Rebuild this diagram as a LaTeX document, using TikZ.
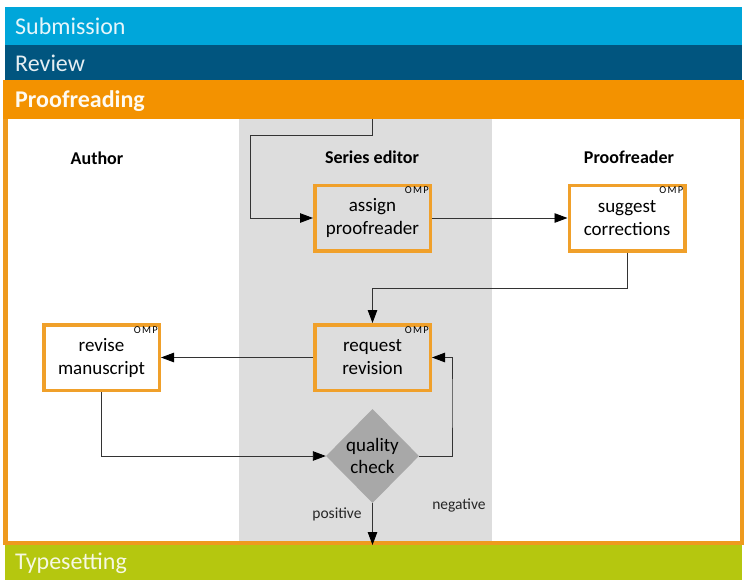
\documentclass[tikz,border=0pt]{standalone}
\usepackage{fontspec}
\setmainfont{Carlito}
\usetikzlibrary{arrows.meta,shapes.geometric}
\definecolor{subm}{HTML}{00A6DA}
\definecolor{revw}{HTML}{01557F}
\definecolor{proof}{HTML}{F39200}
\definecolor{frameor}{HTML}{EE9A1E}
\definecolor{boxor}{HTML}{F0A02A}
\definecolor{typs}{HTML}{B5C70F}
\definecolor{colgray}{HTML}{DDDDDD}
\definecolor{diagray}{HTML}{A8A8A8}
\definecolor{lnk}{HTML}{333333}
\begin{document}
\begin{tikzpicture}[x=1pt,y=-1pt,
  bartext/.style={anchor=west,inner sep=0pt,font=\fontsize{24}{28}\selectfont},
  role/.style={font=\bfseries\fontsize{18}{22}\selectfont,inner sep=0pt},
  task/.style={draw=boxor,line width=3.5pt,minimum width=115.5pt,minimum height=65.5pt,align=center,inner sep=0pt,
    font=\fontsize{19}{23}\selectfont},
  omp/.style={font=\addfontfeature{LetterSpace=12}\fontsize{10.5}{11}\selectfont,inner sep=0pt,anchor=north east},
  conn/.style={draw=lnk,line width=0.9pt,-{Triangle[length=13pt,width=9.5pt,color=black]}},
  lbl/.style={font=\fontsize{15.5}{18}\selectfont,inner sep=0pt,text=black!85}]
\useasboundingbox (0,0) rectangle (749,587);
\fill[white] (0,0) rectangle (749,587);
% bars
\fill[subm] (5,7) rectangle (742,45);
\fill[revw] (5,45) rectangle (742,80);
\fill[frameor] (3,80) rectangle (744,545);
\fill[proof] (3,80) rectangle (744,119);
\fill[white] (7.5,119) rectangle (739.5,541);
\fill[colgray] (239,119) rectangle (492,541);
\fill[typs] (5,545) rectangle (742,580);
\node[bartext,text=white!90!subm] (tsub) at (15,26) {Submission};
\node[bartext,text=white!90!revw] (trev) at (15,63) {Review};
\node[bartext,text=white!95!proof,font=\bfseries\fontsize{24}{28}\selectfont] (tpro) at (15,101) {Proofreading};
\node[bartext,text=white!88!typs] (ttyp) at (15,563) {Typesetting};
% roles
\node[role] (rauthor) at (97,158) {Author};
\node[role] (reditor) at (372,157) {Series editor};
\node[role] (rproof) at (629,157) {Proofreader};
% tasks
\node[task] (assign) at (372.5,218) {assign\\proofreader};
\node[task] (suggest) at (627,218) {suggest\\corrections};
\node[task] (request) at (372.5,357.5) {request\\revision};
\node[task] (revise) at (101.5,357.5) {revise\\manuscript};
\node[omp] (o1) at ([xshift=-3pt,yshift=-3pt]assign.north east) {OMP};
\node[omp] (o2) at ([xshift=-3pt,yshift=-3pt]suggest.north east) {OMP};
\node[omp] (o3) at ([xshift=-3pt,yshift=-3pt]request.north east) {OMP};
\node[omp] (o4) at ([xshift=-3pt,yshift=-3pt]revise.north east) {OMP};
\node[diamond,fill=diagray,minimum width=93pt,minimum height=94pt,inner sep=0pt,align=center,
  font=\fontsize{19}{22}\selectfont] (qc) at (372.5,456) {quality\\check};
% connectors
\coordinate (entry) at (372,119);
\coordinate (k1) at (250,135);
\coordinate (k2) at (372.5,288);
\coordinate (k3) at (452,400);
\coordinate (exit) at (372.5,545);
\draw[conn] (entry) |- (k1) |- (assign.west);
\draw[conn] (assign.east) -- (suggest.west);
\draw[conn] (suggest.south) |- (k2) -- (request.north);
\draw[conn] (request.west) -- (revise.east);
\draw[conn] (revise.south) |- (qc.west);
\draw[conn] (qc.east) -| (k3) |- (request.east);
\draw[conn] (qc.south) -- (exit);
\node[lbl] (pos) at (337,514) {positive};
\node[lbl] (neg) at (459,505) {negative};
\end{tikzpicture}
\end{document}
